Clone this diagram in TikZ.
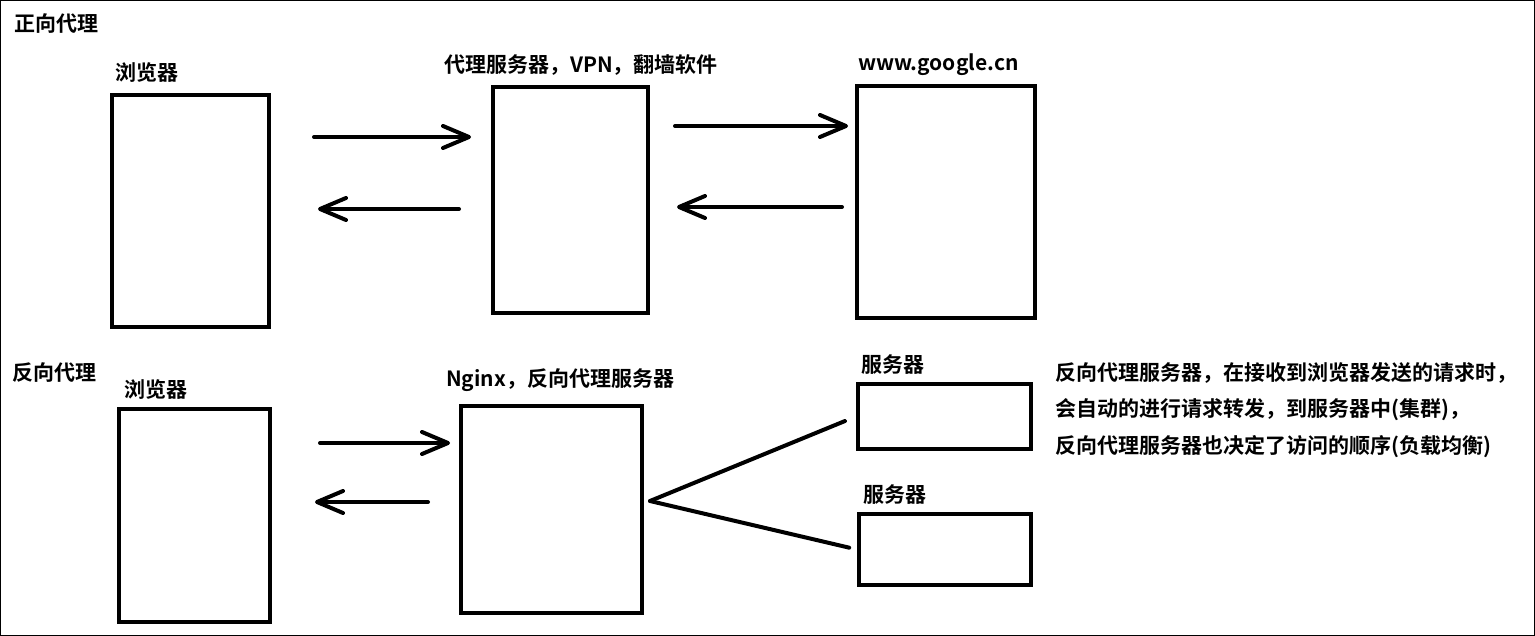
\documentclass[tikz,border=0pt]{standalone}
\usepackage{fontspec}
\setmainfont{Noto Sans CJK SC}[BoldFont={Noto Sans CJK SC Bold}]
\usetikzlibrary{arrows.meta}
\begin{document}
\begin{tikzpicture}[x=1pt,y=-1pt,
  box/.style={draw,line width=4pt,inner sep=0pt},
  lbl/.style={anchor=west,inner sep=0pt,font=\fontsize{21}{26}\selectfont\bfseries},
  arr/.style={line width=4pt,line cap=round,-{Straight Barb[length=26pt,width=22pt,round]}},
  link/.style={line width=4pt,line cap=round}]
  \useasboundingbox (0,0) rectangle (1535,636);
  \draw[line width=1pt] (0.5,0.5) rectangle (1534.5,635.5);
  % Forward proxy
  \node[lbl] (fwdtitle) at (14,24) {正向代理};
  \node[lbl] (fwdlbl1) at (115,73) {浏览器};
  \node[lbl] (fwdlbl2) at (444,65) {代理服务器，VPN，翻墙软件};
  \node[lbl] (fwdlbl3) at (858,65) {www.google.cn};
  \node[box,minimum width=157pt,minimum height=232pt] (browser1) at (190.5,211) {};
  \node[box,minimum width=155pt,minimum height=226pt] (proxy) at (570.5,200) {};
  \node[box,minimum width=178pt,minimum height=232pt] (google) at (946,202) {};
  \coordinate (a1s) at (314,137); \coordinate (a1e) at (471,137);
  \coordinate (a2s) at (459,209); \coordinate (a2e) at (318,209);
  \coordinate (a3s) at (675,126); \coordinate (a3e) at (848,126);
  \coordinate (a4s) at (842,207); \coordinate (a4e) at (677,207);
  \draw[arr] (a1s) -- (a1e);
  \draw[arr] (a2s) -- (a2e);
  \draw[arr] (a3s) -- (a3e);
  \draw[arr] (a4s) -- (a4e);
  % Reverse proxy
  \node[lbl] (revtitle) at (12,373) {反向代理};
  \node[lbl] (revlbl1) at (124,390) {浏览器};
  \node[lbl] (revlbl2) at (446,380) {Nginx，反向代理服务器};
  \node[lbl] (revlbl3) at (861,365) {服务器};
  \node[lbl] (revlbl4) at (863,495) {服务器};
  \node[box,minimum width=151pt,minimum height=213pt] (browser2) at (194.5,515.5) {};
  \node[box,minimum width=181pt,minimum height=207pt] (nginx) at (551.5,509.5) {};
  \node[box,minimum width=173pt,minimum height=65pt] (server1) at (944.5,416.5) {};
  \node[box,minimum width=172pt,minimum height=71pt] (server2) at (945,549.5) {};
  \coordinate (a5s) at (320,443); \coordinate (a5e) at (450,443);
  \coordinate (a6s) at (428,502); \coordinate (a6e) at (315,502);
  \draw[arr] (a5s) -- (a5e);
  \draw[arr] (a6s) -- (a6e);
  \coordinate (fork) at (650,501);
  \draw[link,shorten >=12pt] (fork) -- (server1.west);
  \draw[link,shorten >=8pt] (fork) -- (server2.west);
  % Note
  \node[lbl] (note1) at (1055,373) {反向代理服务器，在接收到浏览器发送的请求时，};
  \node[lbl] (note2) at (1055,410) {会自动的进行请求转发，到服务器中(集群)，};
  \node[lbl] (note3) at (1055,447) {反向代理服务器也决定了访问的顺序(负载均衡)};
\end{tikzpicture}
\end{document}
